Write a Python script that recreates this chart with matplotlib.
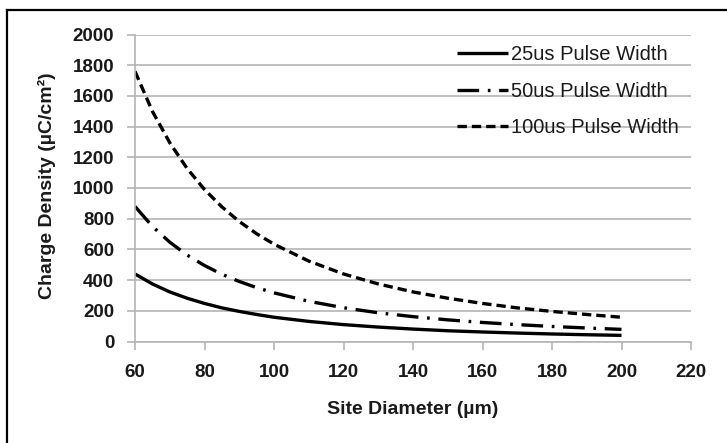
import numpy as np
import matplotlib
matplotlib.use("Agg")
import matplotlib.pyplot as plt
from matplotlib.lines import Line2D

plt.rcParams['font.family'] = ['Liberation Sans', 'DejaVu Sans']

# site diameter (um) and charge density (uC/cm^2) for each pulse width
diameter = [60, 65, 70, 75, 80, 85, 90, 95, 100, 110, 120, 130, 140, 150, 160, 170, 180, 190, 200]
q_25us = [440, 375, 323, 282, 248, 219, 196, 176, 158, 131, 110, 94, 81, 70, 62, 55, 49, 44, 40]
q_50us = [880, 750, 647, 563, 495, 438, 391, 351, 317, 262, 220, 187, 162, 141, 124, 110, 98, 88, 79]
q_100us = [1760, 1500, 1295, 1127, 990, 877, 782, 702, 634, 524, 440, 375, 323, 282, 248, 219, 196, 176, 158]

xticks = np.arange(60, 221, 20)
yticks = np.arange(0, 2001, 200)

W, H = 727, 443
fig = plt.figure(figsize=(W / 100, H / 100), dpi=100)
ax = fig.add_axes([135 / W, 1 - 341.5 / H, (691 - 135) / W, (341.5 - 34.5) / H])

lw = 2.4
ax.plot(diameter, q_25us, color='black', lw=lw, solid_capstyle='butt', label='25us Pulse Width')
ax.plot(diameter, q_50us, color='black', lw=lw, dashes=[6.5, 2.6, 0.8, 2.6], label='50us Pulse Width')
ax.plot(diameter, q_100us, color='black', lw=lw, dashes=[2.8, 1.5], label='100us Pulse Width')

ax.set_xlim(60, 220)
ax.set_ylim(0, 2000)
ax.set_xticks(xticks)
ax.set_yticks(yticks)

grid_c = '#b4b4b4'
ax.yaxis.grid(True, color=grid_c, lw=1.2)
ax.set_axisbelow(True)
for s in ['top', 'right']:
    ax.spines[s].set_visible(False)
for s in ['left', 'bottom']:
    ax.spines[s].set_color(grid_c)
    ax.spines[s].set_linewidth(1.2)
ax.tick_params(axis='both', direction='out', length=6, width=1.2, color=grid_c,
               labelsize=13.5, labelcolor='#1a1a1a')
ax.tick_params(axis='x', pad=10.5)
ax.tick_params(axis='y', pad=9)
for t in ax.get_xticklabels() + ax.get_yticklabels():
    t.set_fontweight('bold')

fig.text(413 / W, 1 - 410 / H, 'Site Diameter (\u00b5m)', ha='center', va='center',
         fontsize=14, fontweight='bold', color='#1a1a1a')
fig.text(47 / W, 1 - 186 / H, 'Charge Density (\u00b5C/cm\u00b2)', ha='center', va='center',
         rotation=90, fontsize=14, fontweight='bold', color='#1a1a1a')

leg = ax.legend(loc='upper left', bbox_to_anchor=(457 / W, 1 - 45 / H),
                bbox_transform=fig.transFigure, frameon=False, fontsize=14.5,
                handlelength=2.55, handletextpad=0.12, labelspacing=0.88,
                borderpad=0, borderaxespad=0)
for t in leg.get_texts():
    t.set_color('#1a1a1a')

# outer border (top and left edges show)
fig.add_artist(Line2D([7 / W, 7 / W], [0, 1 - 10 / H], color='black', lw=1.6,
                      transform=fig.transFigure))
fig.add_artist(Line2D([7 / W, 1], [1 - 10 / H, 1 - 10 / H], color='black', lw=1.6,
                      transform=fig.transFigure))

fig.savefig('out.png', dpi=100)
